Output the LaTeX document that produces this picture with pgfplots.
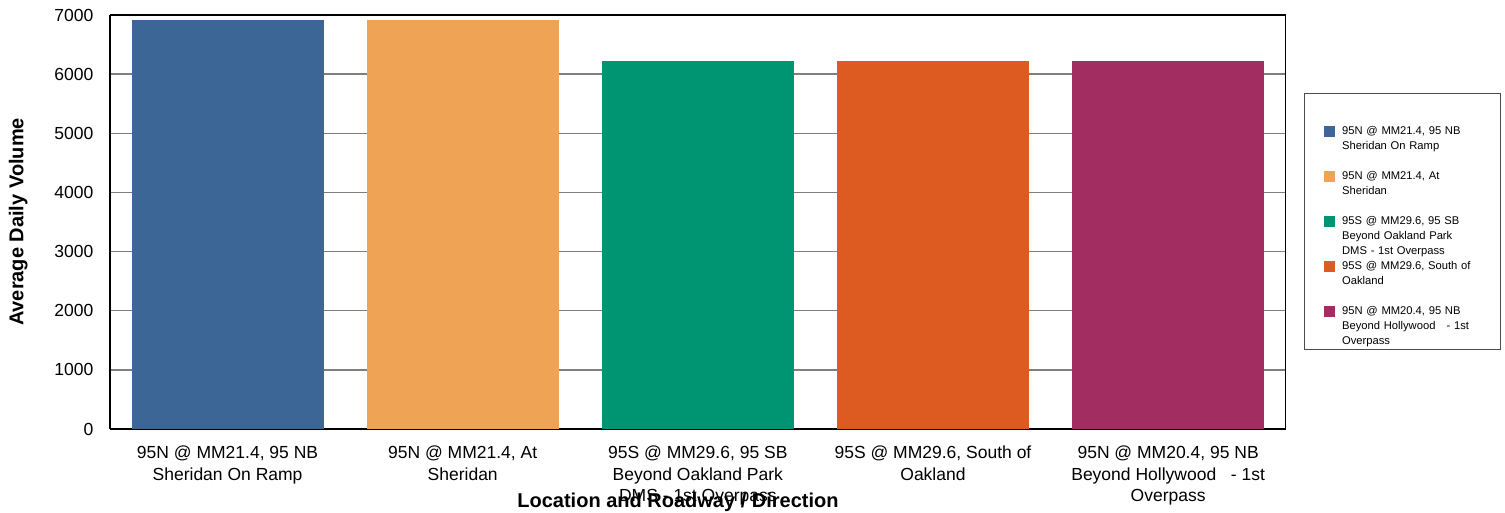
\documentclass[border=0pt]{standalone}
\usepackage{fontspec}
\setmainfont{Liberation Sans}
\usepackage{pgfplots}
\pgfplotsset{compat=1.18}

\definecolor{cBlue}{HTML}{3B6696}
\definecolor{cOrange}{HTML}{EFA354}
\definecolor{cGreen}{HTML}{009572}
\definecolor{cRed}{HTML}{DD5A21}
\definecolor{cPlum}{HTML}{A22D61}

\pgfplotsset{
  vbar/.style={ybar, bar width=0.8165, bar shift=0pt, draw=none,
    legend image code/.code={\fill[##1,draw=none] (0pt,-5.5pt) rectangle (11pt,5.5pt);
      \path (17.7pt,0pt);}},
}

\begin{document}
\begin{tikzpicture}
\useasboundingbox (0,0) rectangle (1505pt,512pt);
\begin{axis}[
  at={(110pt,83pt)}, anchor=south west,
  scale only axis, width=1175.7pt, height=414pt,
  xmin=-0.5, xmax=4.5, ymin=0, ymax=7000,
  xtick={0,1,2,3,4},
  xticklabels={
    {95N @ MM21.4, 95 NB\\Sheridan On Ramp},
    {95N @ MM21.4, At\\Sheridan},
    {95S @ MM29.6, 95 SB\\Beyond Oakland Park\\DMS - 1st Overpass},
    {95S @ MM29.6, South of\\Oakland},
    {95N @ MM20.4, 95 NB\\Beyond Hollywood\ \ \ - 1st\\Overpass}},
  ytick={0,1000,...,7000},
  major tick length=0pt,
  scaled y ticks=false,
  /pgf/number format/assume math mode=true,
  /pgf/number format/1000 sep={},
  ticklabel style={font=\fontsize{17.5}{21.5}\selectfont},
  yticklabel style={inner sep=0pt, xshift=-16.5pt},
  xticklabel style={inner sep=0pt, yshift=-17pt, align=center},
  ymajorgrids,
  grid style={draw=black!50, line width=1.3pt},
  axis line style={black, line width=1.4pt},
  separate axis lines,
  x axis line style={line width=1.8pt},
  every axis x label/.style={at={(axis description cs:0.4831,-0.1891)}, anchor=base,
    font=\fontsize{20}{24}\selectfont\bfseries},
  every axis y label/.style={at={(axis description cs:-0.0737,0.5)}, anchor=base, rotate=90,
    font=\fontsize{20}{24}\selectfont\bfseries},
  xlabel={Location and Roadway / Direction},
  ylabel={Average Daily Volume},
  legend style={at={(axis description cs:1.0156,0.8116)}, anchor=north west,
    draw=black!70, line width=0.8pt, inner xsep=20pt, inner ysep=15.5pt,
    row sep=0pt, column sep=0pt, cells={anchor=west},
    nodes={inner sep=0pt, minimum height=45pt, text width=138pt, align=left,
      font=\fontsize{11.2}{14.8}\selectfont},
    font=\fontsize{11.2}{14.8}\selectfont},
]
\addplot[vbar, fill=cBlue]   coordinates {(0,6920)};
\addlegendentry{95N @ MM21.4, 95 NB\\Sheridan On Ramp}
\addplot[vbar, fill=cOrange] coordinates {(1,6920)};
\addlegendentry{95N @ MM21.4, At\\Sheridan}
\addplot[vbar, fill=cGreen]  coordinates {(2,6225)};
\addlegendentry{95S @ MM29.6, 95 SB\\Beyond Oakland Park\\DMS - 1st Overpass}
\addplot[vbar, fill=cRed]    coordinates {(3,6225)};
\addlegendentry{95S @ MM29.6, South of\\Oakland}
\addplot[vbar, fill=cPlum]   coordinates {(4,6225)};
\addlegendentry{95N @ MM20.4, 95 NB\\Beyond Hollywood\ \ \ - 1st\\Overpass}
\end{axis}
\end{tikzpicture}
\end{document}
